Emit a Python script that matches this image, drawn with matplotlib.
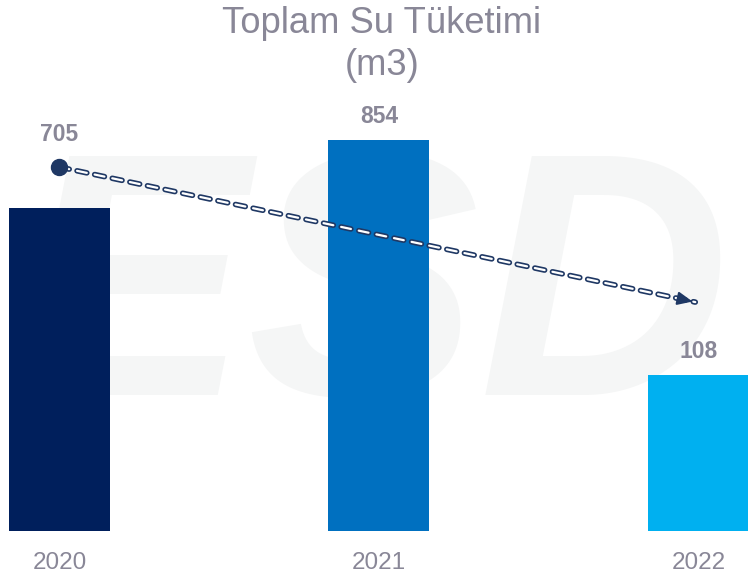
import matplotlib.pyplot as plt
import matplotlib.patheffects as pe

# chart data
years = ["2020", "2021", "2022"]
values = [705, 854, 108]
# bar heights as drawn in the picture (2022 bar is not to scale with its label)
heights = [705, 854, 341]
colors = ["#001f5c", "#0070c0", "#00b0f0"]
# decorative trend arrow, start and end values
trend_x = [0, 1.99]
trend_y = [795, 500]

title = "Toplam Su Tüketimi\n(m3)"
gray = "#898797"
navy = "#1f3864"

plt.rcParams['font.family'] = ['Liberation Sans', 'DejaVu Sans']

fig = plt.figure(figsize=(7.48, 5.76), dpi=100)
fig.patch.set_facecolor("white")

# faint watermark in a background axes
bg = fig.add_axes([0, 0, 1, 1], zorder=0)
bg.set_axis_off()
bg.text(0.5, 0.47, "ESD", fontsize=250, fontweight="bold", style="italic",
        color="#f5f6f6", ha="center", va="center", transform=bg.transAxes)

ax = fig.add_axes([0, 45 / 576, 1, 431 / 576], zorder=1)
ax.patch.set_alpha(0)
x = list(range(len(years)))
ax.bar(x, heights, width=0.316, color=colors, zorder=2)

ax.set_xlim(-0.186, 2.155)
ax.set_ylim(0, 941.5)
for s in ax.spines.values():
    s.set_visible(False)
ax.set_yticks([])
ax.set_xticks(x)
ax.set_xticklabels(years, fontsize=17.5, color=gray)
ax.tick_params(axis="x", length=0, pad=15)

# dashed trend line with outlined dashes
line, = ax.plot(trend_x, trend_y, color="white", lw=1.6, zorder=3,
                dash_capstyle="round", solid_capstyle="round")
line.set_dashes([4.5, 3.6])
line.set_path_effects([pe.Stroke(linewidth=4.0, foreground=navy), pe.Normal()])
ax.plot(trend_x[0], trend_y[0], "o", color=navy, markersize=11.5, zorder=4)
dx = trend_x[1] - trend_x[0]
dy = trend_y[1] - trend_y[0]
ax.annotate("", xy=(trend_x[1], trend_y[1]),
            xytext=(trend_x[1] - dx * 0.02, trend_y[1] - dy * 0.02),
            arrowprops=dict(arrowstyle="-|>,head_length=0.9,head_width=0.4",
                            color=navy, lw=1.5), zorder=4)

# value labels
for i, v in enumerate(values):
    base = heights[i]
    off = 12
    if i == 0:
        base = trend_y[0]
        off = 21
    ax.annotate(str(v), xy=(i, base), xytext=(0, off), textcoords="offset pixels",
                ha="center", va="bottom", fontsize=16.5, fontweight="bold",
                color=gray, zorder=5)

fig.text(382 / 748, 1 - 6 / 576, title, fontsize=26.2, color=gray,
         ha="center", va="top", linespacing=1.25)

fig.savefig("out.png", dpi=100)
